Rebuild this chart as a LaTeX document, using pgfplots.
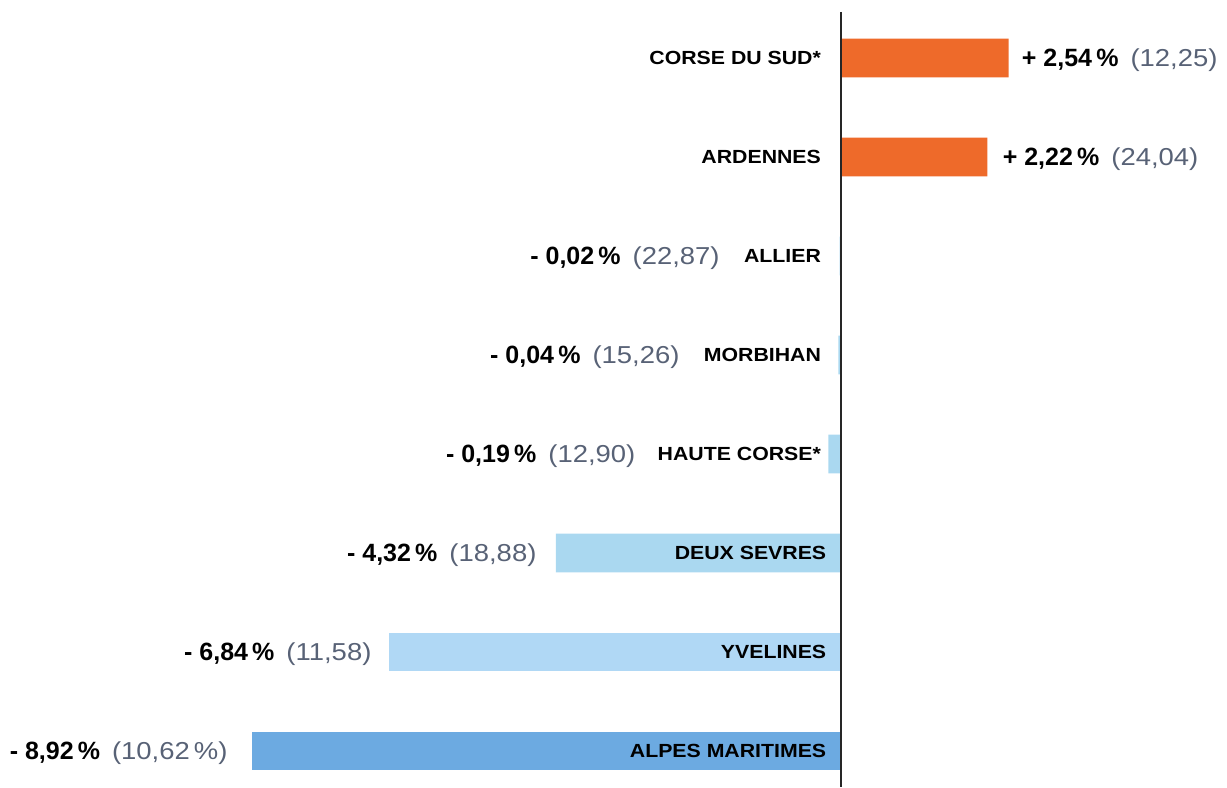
\documentclass[border=0pt]{standalone}
\usepackage{pgfplots}
\pgfplotsset{compat=1.18}
\usepackage{fontspec}
\setmainfont{Liberation Sans}
\newfontfamily\deptfont[FakeStretch=1.12]{Liberation Sans}
\newfontfamily\parfont[FakeStretch=1.12]{Liberation Sans}
\definecolor{orangebar}{RGB}{238,106,42}
\definecolor{lightbar}{RGB}{170,216,240}
\definecolor{ybarc}{RGB}{176,216,245}
\definecolor{darkbar}{RGB}{108,170,225}
\definecolor{pgray}{RGB}{88,98,118}
\newcommand{\dept}[1]{{\deptfont\bfseries\fontsize{19}{21}\selectfont #1}}
\newcommand{\val}[2]{{\bfseries\fontsize{25}{27}\selectfont #1}\hspace{12pt}{\parfont\color{pgray}\fontsize{24.5}{27}\selectfont (#2)}}
\begin{document}
\begin{tikzpicture}
\begin{axis}[scale only axis, width=1227pt, height=787pt,
  xmin=-12.74, xmax=5.85, ymin=-0.586, ymax=7.364, y dir=reverse,
  hide axis, clip=false]
\addplot[xbar, bar shift=0pt, bar width=0.39, fill=orangebar, draw=none] coordinates {(2.54,0) (2.22,1)};
\addplot[xbar, bar shift=0pt, bar width=0.39, fill=lightbar, draw=none] coordinates {(-0.02,2) (-0.04,3) (-0.19,4) (-4.32,5)};
\addplot[xbar, bar shift=0pt, bar width=0.39, fill=ybarc, draw=none] coordinates {(-6.84,6)};
\addplot[xbar, bar shift=0pt, bar width=0.39, fill=darkbar, draw=none] coordinates {(-8.92,7)};
\draw[line width=1.3pt, black!85] (axis cs:0,-0.465) -- (axis cs:0,7.364);
% department labels
\node[anchor=east, inner sep=0] (l0) at (axis cs:-0.3,0) {\dept{CORSE DU SUD*}};
\node[anchor=east, inner sep=0] (l1) at (axis cs:-0.3,1) {\dept{ARDENNES}};
\node[anchor=east, inner sep=0] (l2) at (axis cs:-0.3,2) {\dept{ALLIER}};
\node[anchor=east, inner sep=0] (l3) at (axis cs:-0.3,3) {\dept{MORBIHAN}};
\node[anchor=east, inner sep=0] (l4) at (axis cs:-0.3,4) {\dept{HAUTE CORSE*}};
\node[anchor=east, inner sep=0] (l5) at (axis cs:-0.22,5) {\dept{DEUX SEVRES}};
\node[anchor=east, inner sep=0] (l6) at (axis cs:-0.22,6) {\dept{YVELINES}};
\node[anchor=east, inner sep=0] (l7) at (axis cs:-0.22,7) {\dept{ALPES MARITIMES}};
% values
\node[anchor=base west, inner sep=0, yshift=-8.8pt] at (axis cs:2.74,0) {\val{+ 2,54\,\%}{12,25}};
\node[anchor=base west, inner sep=0, yshift=-8.8pt] at (axis cs:2.45,1) {\val{+ 2,22\,\%}{24,04}};
\path (axis cs:0,2) coordinate (r2) (axis cs:0,3) coordinate (r3) (axis cs:0,4) coordinate (r4);
\node[anchor=base east, inner sep=0, xshift=-24pt, yshift=-8.8pt] at (l2.west |- r2) {\val{- 0,02\,\%}{22,87}};
\node[anchor=base east, inner sep=0, xshift=-24pt, yshift=-8.8pt] at (l3.west |- r3) {\val{- 0,04\,\%}{15,26}};
\node[anchor=base east, inner sep=0, xshift=-22pt, yshift=-8.8pt] at (l4.west |- r4) {\val{- 0,19\,\%}{12,90}};
\node[anchor=base east, inner sep=0, yshift=-8.8pt] at (axis cs:-4.61,5) {\val{- 4,32\,\%}{18,88}};
\node[anchor=base east, inner sep=0, yshift=-8.8pt] at (axis cs:-7.11,6) {\val{- 6,84\,\%}{11,58}};
\node[anchor=base east, inner sep=0, yshift=-8.8pt] at (axis cs:-9.29,7) {\val{- 8,92\,\%}{10,62\,\%}};
\end{axis}
\pgfresetboundingbox
\useasboundingbox (current axis.south west) rectangle (current axis.north east);
\end{tikzpicture}
\end{document}
